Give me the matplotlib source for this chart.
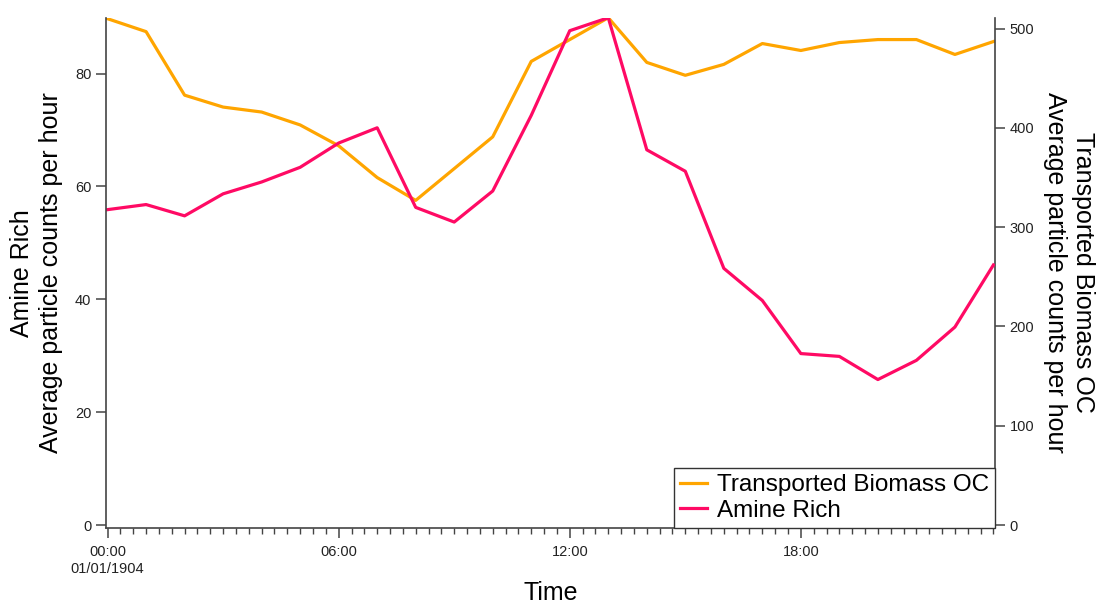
import matplotlib.pyplot as plt
from matplotlib.ticker import MultipleLocator

plt.rcParams['font.family'] = ['Liberation Sans', 'DejaVu Sans']

# Hourly averages over one day
hours = list(range(24))
biomass_oc = [510, 497, 433, 421, 416, 403, 382, 350, 327, 359, 391, 467,
              489, 511, 466, 453, 464, 485, 478, 486, 489, 489, 474, 487]
amine_rich = [55.9, 56.8, 54.8, 58.7, 60.8, 63.4, 67.7, 70.4, 56.3, 53.7, 59.2, 72.6,
              87.6, 89.9, 66.5, 62.7, 45.5, 39.8, 30.4, 29.9, 25.8, 29.2, 35.1, 46.1]

x_ticks = [0, 6, 12, 18]
x_tick_labels = ['00:00\n01/01/1904', '06:00', '12:00', '18:00']
left_ticks = [0, 20, 40, 60, 80]
right_ticks = [0, 100, 200, 300, 400, 500]

axis_col = '#444444'
text_col = '#222222'

fig = plt.figure(figsize=(11.01, 6.03), dpi=100)
ax = fig.add_axes([0.0963, 0.1244, 0.8074, 0.8462])
ax2 = ax.twinx()

# right-axis series sits underneath the left-axis one
ax.set_zorder(ax2.get_zorder() + 1)
ax.patch.set_visible(False)

l1, = ax2.plot(hours, biomass_oc, color='#FFA500', lw=2.3, label='Transported Biomass OC')
l2, = ax.plot(hours, amine_rich, color='#FF0A64', lw=2.3, label='Amine Rich')

ax.set_xlim(-0.04, 23.04)
ax.set_ylim(-0.5, max(amine_rich))
ax2.set_ylim(-3, max(biomass_oc))

for a in (ax, ax2):
    a.spines['top'].set_visible(False)
    for s in a.spines.values():
        s.set_color(axis_col)
        s.set_linewidth(1.2)
ax.spines['right'].set_visible(False)
ax2.spines['left'].set_visible(False)
ax2.spines['bottom'].set_visible(False)

ax.set_xticks(x_ticks, x_tick_labels)
ax.xaxis.set_minor_locator(MultipleLocator(1 / 3))
ax.set_yticks(left_ticks)
ax2.set_yticks(right_ticks)

for a in (ax, ax2):
    a.tick_params(which='major', direction='out', length=7.5, width=1.1,
                  color=axis_col, labelsize=10.5, labelcolor=text_col, pad=3)
    a.tick_params(which='minor', direction='out', length=4.5, width=1.0, color=axis_col)
ax.tick_params(axis='x', which='major', pad=5)

ax.set_xlabel('Time', fontsize=18, labelpad=4)
ax.set_ylabel('Amine Rich\nAverage particle counts per hour', fontsize=18,
              linespacing=1.25, labelpad=9)
ax2.set_ylabel('Transported Biomass OC\nAverage particle counts per hour', fontsize=18,
               linespacing=1.25, rotation=270, va='bottom', labelpad=6)

leg = ax.legend(handles=[l1, l2], loc='lower right', bbox_to_anchor=(1.0, 0.0),
                borderaxespad=0, fontsize=17.5, fancybox=False, framealpha=1,
                edgecolor='#333333', handlelength=1.1, handletextpad=0.4,
                borderpad=0.25, labelspacing=0.15)
leg.get_frame().set_linewidth(1.0)

fig.savefig('out.png', dpi=100)
